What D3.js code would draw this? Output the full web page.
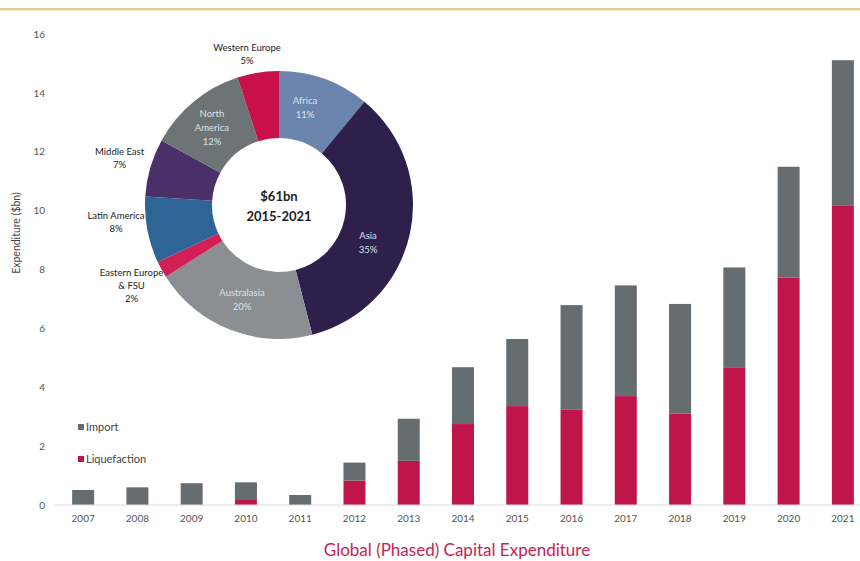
<!DOCTYPE html>
<html>
<head>
<meta charset="utf-8">
<script src="https://cdn.jsdelivr.net/npm/d3@7"></script>
<style>
  body { margin: 0; background: #fff; }
  svg { font-family: Lato, "Open Sans", sans-serif; }
</style>
</head>
<body>
<script>
// data
const years = [2007, 2008, 2009, 2010, 2011, 2012, 2013, 2014, 2015, 2016, 2017, 2018, 2019, 2020, 2021]
const liquefaction = [0, 0, 0, 0.17, 0, 0.83, 1.5, 2.75, 3.36, 3.25, 3.7, 3.11, 4.68, 7.73, 10.16]
const imports = [0.51, 0.6, 0.74, 0.6, 0.34, 0.61, 1.43, 1.93, 2.28, 3.54, 3.76, 3.72, 3.39, 3.76, 4.95]
const yTicks = [0, 2, 4, 6, 8, 10, 12, 14, 16]

const regions = ["Africa", "Asia", "Australasia", "Eastern Europe\n& FSU", "Latin America", "Middle East", "North\nAmerica", "Western Europe"]
const shares = [11, 35, 20, 2, 8, 7, 12, 5]
const insideLabel = [true, true, true, false, false, false, true, false]

const w = 860
const h = 561
const gray = "#656d70"
const red = "#c0154b"
const pieColors = ["#6b84ad", "#2e1f4b", "#8b8e92", "#d21f55", "#2f6596", "#4b2f69", "#6c7476", "#c8114b"]
// small hand nudges for the donut labels (px)
const nudge = [[-8, -3], [-9, 16], [0, 1], [-2, 1], [0, -14], [0, -1], [-3, 0], [-6, 13]]

const svg = d3.select("body")
              .append("svg")
              .attr("width", w)
              .attr("height", h)

// gold rule at the top
svg.append("rect")
   .attr("x", 0).attr("y", 8)
   .attr("width", w).attr("height", 2.5)
   .attr("fill", "#e2cc8e")

const xScale = d3.scaleBand()
                 .domain(years)
                 .range([56, 870])
                 .paddingInner(0.595)
                 .paddingOuter(0.2975)
const yScale = d3.scaleLinear()
                 .domain([0, 16])
                 .range([505, 34])

const rows = years.map((y, i) => ({year: y, liq: liquefaction[i], imp: imports[i]}))
const stack = d3.stack().keys(["liq", "imp"])(rows)
const colors = {liq: red, imp: gray}

svg.append("g")
   .selectAll("g")
   .data(stack)
   .enter()
   .append("g")
   .attr("fill", (s) => colors[s.key])
   .selectAll("rect")
   .data((s) => s)
   .enter()
   .append("rect")
   .attr("x", (d) => xScale(d.data.year))
   .attr("y", (d) => yScale(d[1]))
   .attr("width", xScale.bandwidth())
   .attr("height", (d) => yScale(d[0]) - yScale(d[1]))

// baseline
svg.append("line")
   .attr("x1", 55).attr("x2", w)
   .attr("y1", yScale(0)).attr("y2", yScale(0))
   .attr("stroke", "#d9d9d9")
   .attr("stroke-width", 1.2)

const xAxis = d3.axisBottom(xScale).tickSize(0).tickPadding(10)
const yAxis = d3.axisLeft(yScale).tickValues(yTicks).tickSize(0).tickPadding(0)

const gx = svg.append("g")
   .attr("transform", "translate(0," + yScale(0) + ")")
   .call(xAxis)
const gy = svg.append("g")
   .attr("transform", "translate(45,0)")
   .call(yAxis)
gx.select(".domain").remove()
gy.select(".domain").remove()
svg.selectAll(".tick text")
   .attr("fill", "#555")
   .style("font-size", "10px")
   .style("font-family", "Lato, sans-serif")

svg.append("text")
   .attr("transform", "translate(20,233) rotate(-90)")
   .attr("text-anchor", "middle")
   .attr("fill", "#444")
   .style("font-size", "10.5px")
   .text("Expenditure ($bn)")

// legend
const legend = [["Import", gray], ["Liquefaction", red]]
legend.forEach((l, i) => {
  svg.append("rect")
     .attr("x", 78).attr("y", 424 + i * 32)
     .attr("width", 6).attr("height", 6)
     .attr("fill", l[1])
  svg.append("text")
     .attr("x", 86).attr("y", 431 + i * 32)
     .attr("fill", "#444")
     .style("font-size", "11px")
     .text(l[0])
})

svg.append("text")
   .attr("x", 457).attr("y", 556)
   .attr("text-anchor", "middle")
   .attr("fill", "#c52555")
   .style("font-size", "17px")
   .text("Global (Phased) Capital Expenditure")

// donut
const cx = 279, cy = 205, R = 134, r = 67
const pie = d3.pie().sort(null)(shares)
const arc = d3.arc().innerRadius(r).outerRadius(R)
const labelArc = d3.arc().innerRadius(166).outerRadius(166)
const donut = svg.append("g").attr("transform", "translate(" + cx + "," + cy + ")")

donut.selectAll("path")
     .data(pie)
     .enter()
     .append("path")
     .attr("d", arc)
     .attr("fill", (d, i) => pieColors[i])

donut.selectAll(".plabel")
     .data(pie)
     .enter()
     .append("text")
     .attr("class", "plabel")
     .attr("text-anchor", "middle")
     .attr("fill", (d, i) => insideLabel[i] ? "#dfe0ea" : "#222")
     .style("font-size", "9.5px")
     .each(function(d, i) {
       const lines = (regions[i] + "\n" + shares[i] + "%").split("\n")
       const c = insideLabel[i] ? arc.centroid(d) : labelArc.centroid(d)
       const x = c[0] + nudge[i][0]
       const lh = insideLabel[i] ? 14 : 13
       const top = c[1] + nudge[i][1] - (lines.length - 1) * lh / 2 + 3.5
       d3.select(this).selectAll("tspan")
         .data(lines)
         .enter()
         .append("tspan")
         .attr("x", x)
         .attr("y", (t, j) => top + j * lh)
         .text((t) => t)
     })

donut.append("text")
     .attr("text-anchor", "middle")
     .attr("y", -4)
     .attr("fill", "#222")
     .style("font-size", "13px")
     .style("font-weight", "bold")
     .text("$61bn")
donut.append("text")
     .attr("text-anchor", "middle")
     .attr("y", 16)
     .attr("fill", "#222")
     .style("font-size", "13px")
     .style("font-weight", "bold")
     .text("2015-2021")
</script>
</body>
</html>
